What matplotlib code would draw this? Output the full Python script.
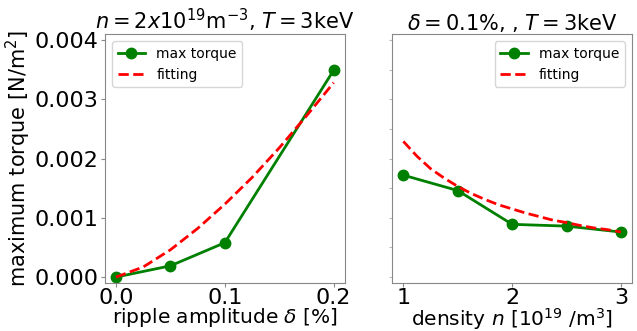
import matplotlib
matplotlib.use('Agg')
import matplotlib.pyplot as plt

# left panel: torque vs ripple amplitude
delta = [0.0, 0.05, 0.1, 0.2]
torque_delta = [0.0, 0.00019, 0.00058, 0.00349]
delta_fit = [0.0, 0.025, 0.05, 0.075, 0.1, 0.125, 0.15, 0.175, 0.2]
torque_delta_fit = [0.0, 0.00017, 0.00046, 0.00082, 0.00123, 0.00168, 0.00218, 0.00272, 0.00328]

# right panel: torque vs density
dens = [1.0, 1.5, 2.0, 2.5, 3.0]
torque_dens = [0.00172, 0.00146, 0.00089, 0.00086, 0.00076]
dens_fit = [1.0, 1.125, 1.25, 1.375, 1.5, 1.625, 1.75, 1.875, 2.0,
            2.125, 2.25, 2.375, 2.5, 2.625, 2.75, 2.875, 3.0]
torque_dens_fit = [0.00229, 0.00204, 0.00183, 0.00167, 0.00153, 0.00141, 0.00131, 0.00122, 0.00115,
                   0.00108, 0.00102, 0.00096, 0.00092, 0.00087, 0.00083, 0.00080, 0.00076]

fig, (ax1, ax2) = plt.subplots(1, 2, figsize=(6.37, 3.31), dpi=100)
fig.subplots_adjust(left=0.165, right=0.992, top=0.897, bottom=0.145, wspace=0.2)

for ax in (ax1, ax2):
    for sp in ax.spines.values():
        sp.set_color('#888888')
    ax.tick_params(labelsize=16, color='#888888', length=3, pad=1.5)
    ax.tick_params(axis='x', pad=0.5)

ax1.plot(delta, torque_delta, 'o-', color='green', lw=2, ms=7.5, label='max torque')
ax1.plot(delta_fit, torque_delta_fit, '--', color='red', lw=2, label='fitting')
ax1.set_ylim(-0.0001, 0.0041)
ax1.set_yticks([0.0, 0.001, 0.002, 0.003, 0.004])
ax1.set_yticklabels(['0.000', '0.001', '0.002', '0.003', '0.004'])
ax1.set_xticks([0.0, 0.1, 0.2])
ax1.set_xlabel(r'ripple amplitude $\delta$ [%]', fontsize=14.5, labelpad=-1)
ax1.set_ylabel(r'maximum torque [N/m$^2$]', fontsize=15, labelpad=1)
ax1.set_title(r'$n=2x10^{19}$m$^{-3}$, $T=3$keV', fontsize=15, pad=3)
ax1.legend(loc='upper left', fontsize=10)

ax2.plot(dens, torque_dens, 'o-', color='green', lw=2, ms=7.5, label='max torque')
ax2.plot(dens_fit, torque_dens_fit, '--', color='red', lw=2, label='fitting')
ax2.set_ylim(-0.0001, 0.0041)
ax2.set_yticks([i * 0.0005 for i in range(9)])
ax2.set_yticklabels([])
ax2.tick_params(axis='y', length=2, color='#bbbbbb')
ax2.set_xticks([1, 2, 3])
ax2.set_xlabel(r'density $n$ [$10^{19}$ /m$^3$]', fontsize=14.5, labelpad=-1)
ax2.set_title(r'$\delta=0.1\%$, , $T=3$keV', fontsize=15, pad=3)
ax2.legend(loc='upper right', fontsize=10)

fig.savefig('out.png', dpi=100)
